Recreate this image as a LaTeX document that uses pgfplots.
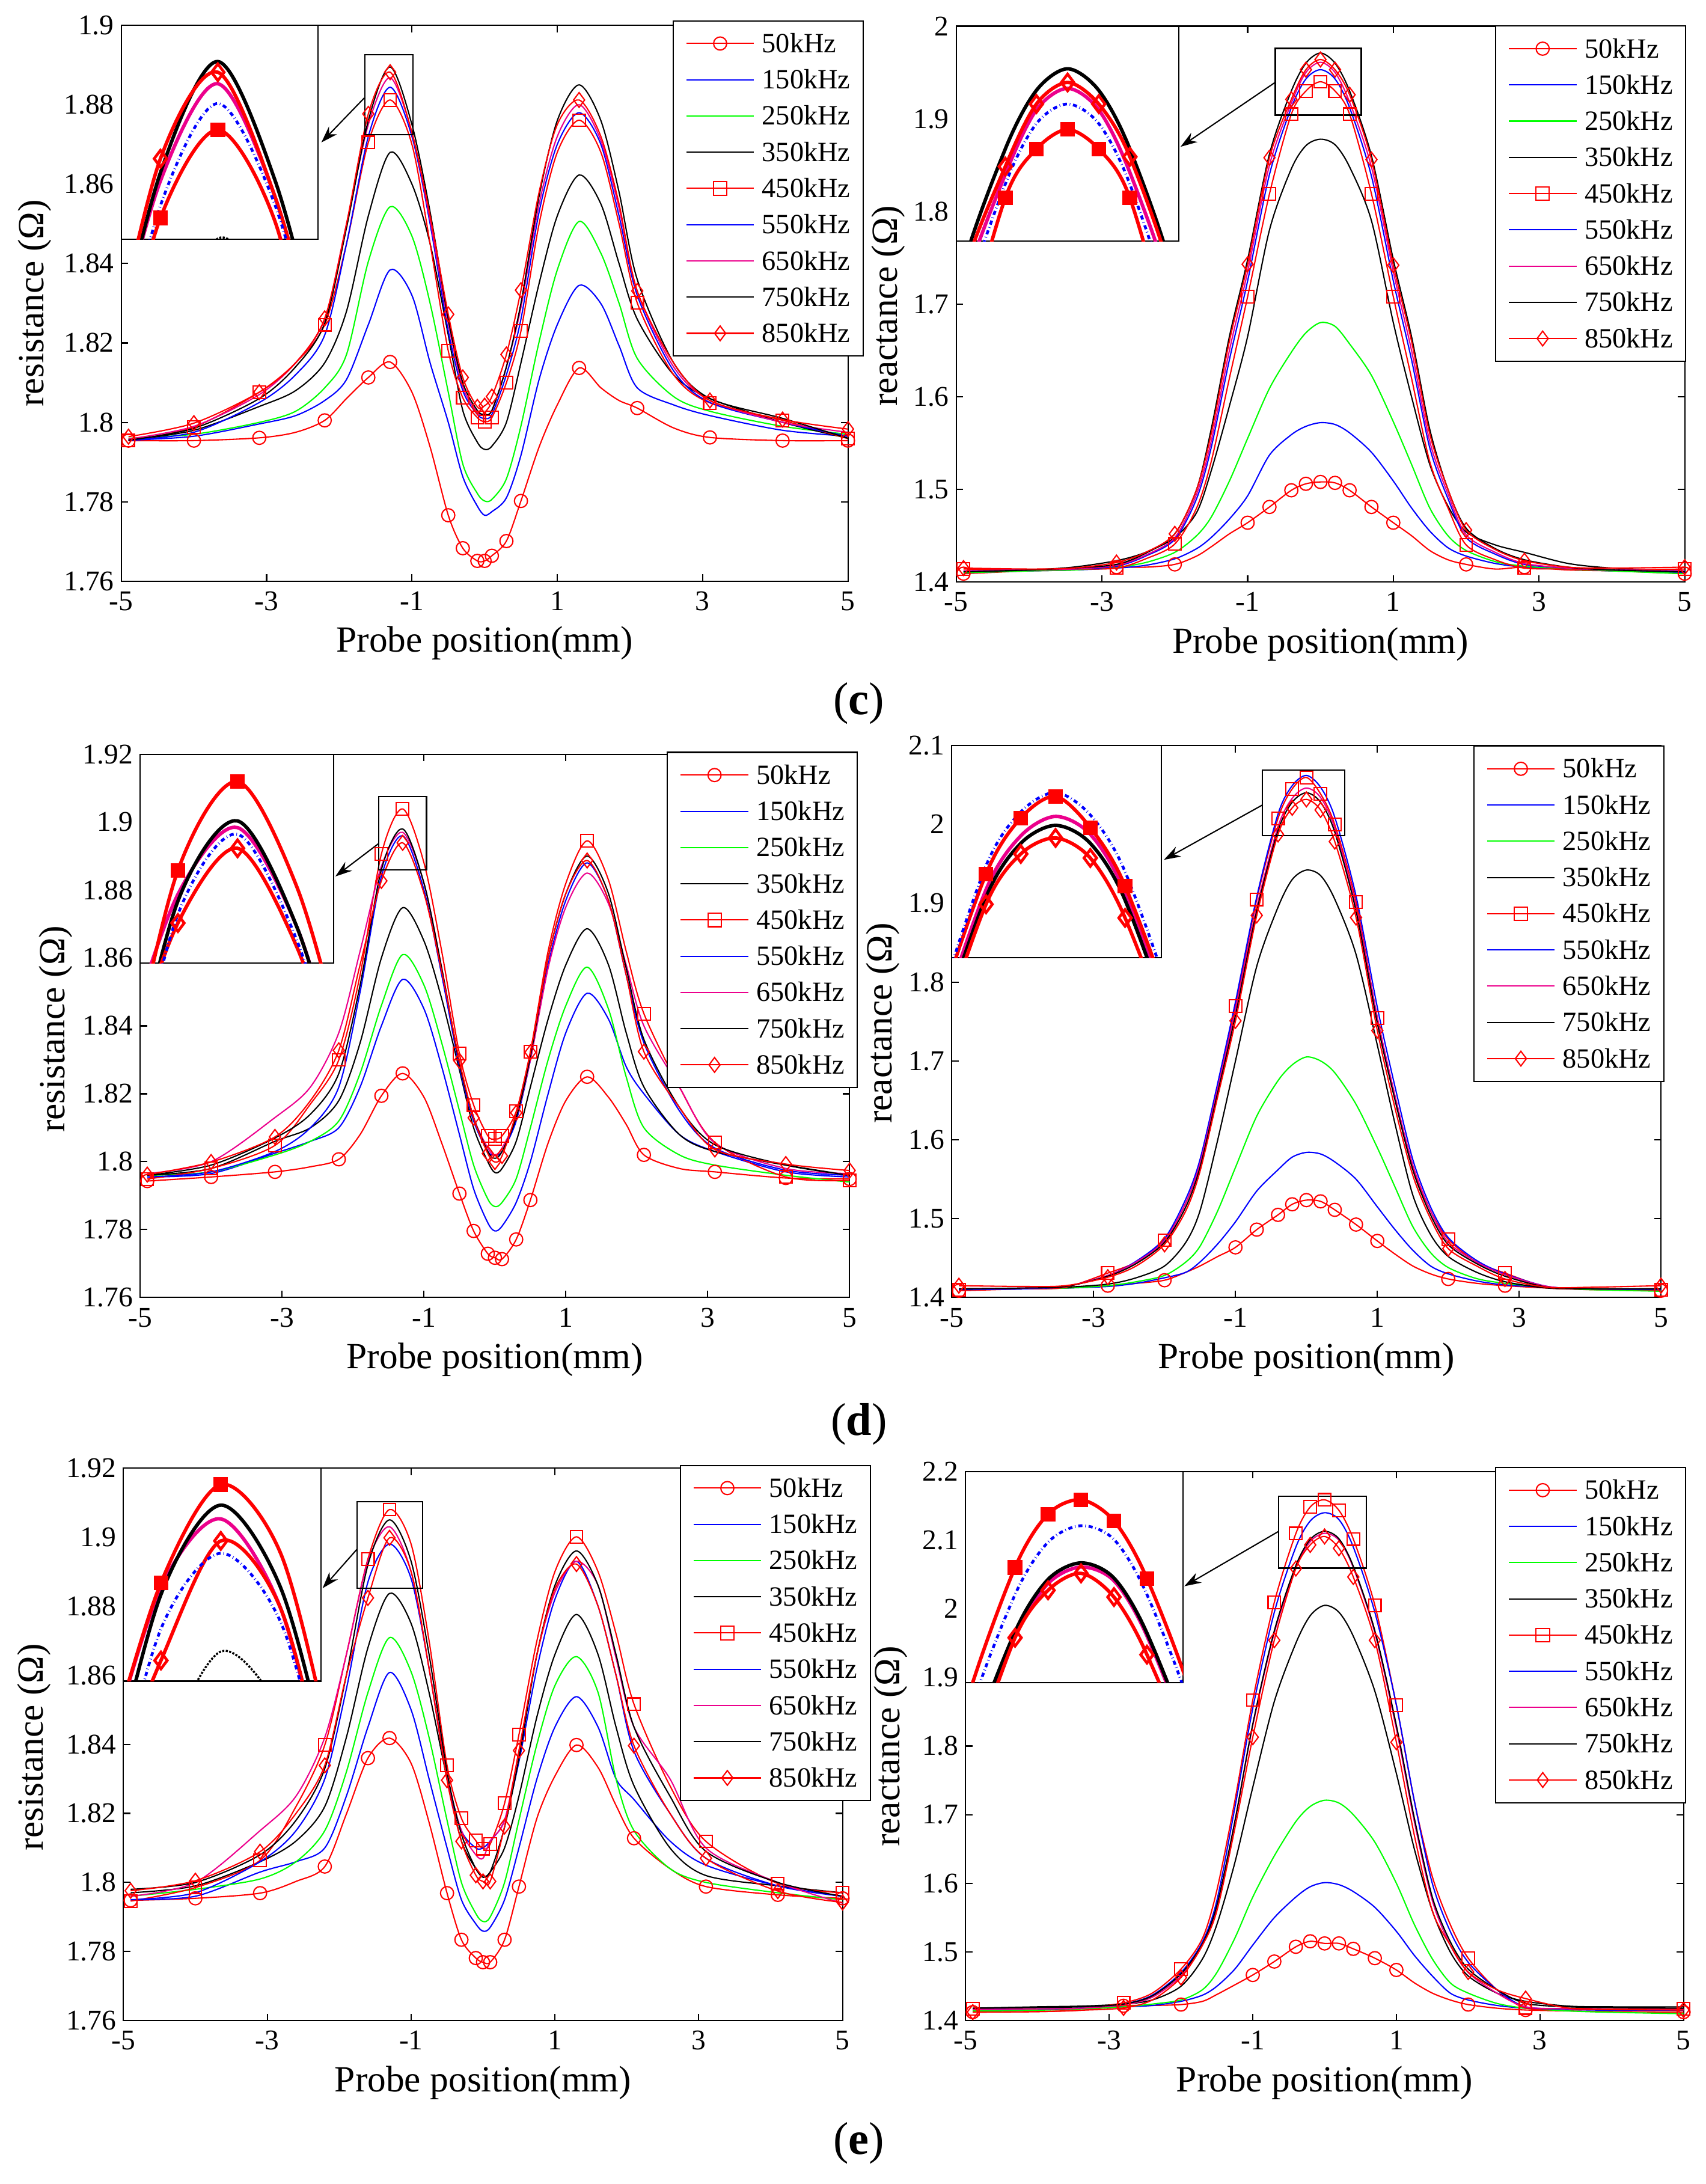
\documentclass[border=0pt]{standalone}
\usepackage{fontspec}
\setmainfont{Liberation Serif}
\usepackage{pgfplots}
\usepackage{pgfplotstable}
\pgfplotsset{compat=1.18}
\usetikzlibrary{arrows.meta}

% columns: x, 50, 150, 250, 350, 450, 550, 650, 750, 850 kHz
\pgfplotstableread{
x a b c d e f g h i
-4.9 1.7954 1.7955 1.796 1.7955 1.7954 1.7955 1.7958 1.7955 1.7964
-4.0 1.7954 1.7965 1.797 1.798 1.7988 1.7975 1.799 1.7985 1.7998
-3.1 1.7961 1.7996 1.800 1.804 1.8076 1.805 1.807 1.806 1.8076
-2.6 1.7975 1.8017 1.8028 1.808 1.815 1.812 1.815 1.814 1.815
-2.2 1.8005 1.8055 1.8087 1.815 1.8246 1.822 1.826 1.825 1.8262
-1.9 1.806 1.8108 1.8171 1.828 1.845 1.845 1.850 1.849 1.850
-1.6 1.8113 1.8246 1.8405 1.852 1.8705 1.872 1.875 1.876 1.8777
-1.3 1.8152 1.8384 1.8543 1.868 1.8812 1.8844 1.8868 1.8895 1.8882
-1.0 1.8076 1.832 1.8469 1.860 1.870 1.872 1.873 1.875 1.873
-0.75 1.7938 1.815 1.830 1.845 1.845 1.85 1.851 1.853 1.852
-0.5 1.7766 1.800 1.8076 1.822 1.818 1.823 1.825 1.826 1.8272
-0.3 1.7683 1.7863 1.7895 1.803 1.8062 1.808 1.809 1.810 1.8113
-0.1 1.7651 1.7789 1.7821 1.795 1.8012 1.802 1.8025 1.803 1.8039
0 1.7651 1.7766 1.7802 1.7932 1.8002 1.801 1.802 1.802 1.8042
0.1 1.7664 1.7775 1.7806 1.794 1.8012 1.802 1.803 1.803 1.8065
0.3 1.7701 1.781 1.7858 1.800 1.810 1.812 1.814 1.814 1.8171
0.5 1.7802 1.7917 1.7991 1.815 1.823 1.826 1.829 1.830 1.8333
0.75 1.7938 1.8108 1.8203 1.835 1.850 1.853 1.855 1.857 1.858
1.0 1.8044 1.8246 1.8384 1.852 1.868 1.870 1.872 1.876 1.875
1.3 1.8137 1.8345 1.8506 1.8623 1.8761 1.878 1.880 1.885 1.8812
1.6 1.8087 1.8299 1.8426 1.855 1.868 1.870 1.871 1.876 1.872
1.85 1.8055 1.8193 1.830 1.840 1.850 1.852 1.854 1.858 1.855
2.1 1.8036 1.8087 1.8161 1.826 1.8301 1.832 1.833 1.836 1.8331
2.6 1.7986 1.8044 1.8065 1.812 1.812 1.813 1.814 1.815 1.815
3.1 1.7962 1.8017 1.8028 1.806 1.8049 1.805 1.8055 1.806 1.8055
4.1 1.7954 1.798 1.799 1.800 1.8005 1.800 1.800 1.801 1.8007
5.0 1.7954 1.7965 1.797 1.796 1.7959 1.7965 1.7975 1.796 1.7983
}\tA

\pgfplotstableread{
x a b c d e f g h i
-4.9 1.409 1.410 1.410 1.411 1.414 1.412 1.412 1.411 1.415
-4.0 1.412 1.412 1.412 1.413 1.413 1.413 1.413 1.413 1.414
-3.4 1.413 1.413 1.413 1.416 1.414 1.414 1.414 1.415 1.415
-2.8 1.416 1.415 1.416 1.423 1.415 1.417 1.418 1.419 1.421
-2.4 1.416 1.418 1.421 1.432 1.425 1.428 1.429 1.431 1.432
-2.0 1.419 1.425 1.432 1.448 1.441 1.446 1.448 1.452 1.452
-1.7 1.428 1.436 1.450 1.475 1.48 1.49 1.495 1.50 1.50
-1.5 1.438 1.448 1.470 1.52 1.53 1.545 1.552 1.565 1.56
-1.25 1.452 1.468 1.509 1.59 1.62 1.64 1.65 1.665 1.66
-1.0 1.464 1.493 1.555 1.665 1.708 1.725 1.735 1.748 1.743
-0.7 1.481 1.537 1.609 1.78 1.819 1.84 1.85 1.862 1.858
-0.4 1.499 1.559 1.648 1.846 1.905 1.912 1.917 1.930 1.921
-0.2 1.506 1.568 1.669 1.871 1.930 1.943 1.950 1.960 1.953
0 1.508 1.572 1.680 1.878 1.940 1.953 1.961 1.971 1.964
0.2 1.507 1.570 1.676 1.872 1.930 1.943 1.950 1.960 1.953
0.4 1.499 1.561 1.657 1.848 1.905 1.912 1.918 1.930 1.926
0.7 1.481 1.540 1.623 1.79 1.819 1.838 1.848 1.860 1.856
1.0 1.464 1.509 1.573 1.68 1.708 1.725 1.735 1.748 1.742
1.25 1.450 1.480 1.527 1.60 1.62 1.64 1.65 1.665 1.66
1.5 1.434 1.455 1.480 1.527 1.53 1.545 1.552 1.565 1.56
1.75 1.424 1.437 1.450 1.482 1.48 1.49 1.495 1.50 1.50
2.0 1.419 1.428 1.434 1.454 1.440 1.448 1.451 1.458 1.456
2.4 1.414 1.420 1.422 1.440 1.424 1.43 1.432 1.436 1.435
2.8 1.416 1.416 1.417 1.432 1.415 1.419 1.420 1.424 1.423
3.4 1.413 1.414 1.414 1.420 1.414 1.415 1.415 1.416 1.416
4.0 1.412 1.412 1.412 1.415 1.413 1.413 1.413 1.413 1.415
5.0 1.409 1.410 1.409 1.411 1.414 1.412 1.412 1.411 1.416
}\tB

\pgfplotstableread{
x a b c d e f g h i
-4.9 1.7943 1.7955 1.796 1.796 1.7949 1.7955 1.7965 1.796 1.7962
-4.0 1.7955 1.7965 1.797 1.798 1.798 1.797 1.800 1.799 1.7999
-3.1 1.797 1.8025 1.802 1.806 1.8048 1.803 1.813 1.807 1.8073
-2.6 1.7985 1.806 1.806 1.81 1.817 1.81 1.822 1.814 1.818
-2.2 1.8007 1.81 1.812 1.818 1.83 1.822 1.838 1.826 1.8328
-1.9 1.808 1.822 1.826 1.835 1.855 1.85 1.862 1.852 1.858
-1.6 1.8194 1.84 1.846 1.86 1.8906 1.884 1.887 1.886 1.8827
-1.3 1.826 1.8537 1.861 1.8748 1.9039 1.896 1.897 1.898 1.8939
-1.0 1.819 1.845 1.852 1.865 1.888 1.88 1.882 1.882 1.879
-0.75 1.8055 1.828 1.835 1.848 1.862 1.855 1.857 1.857 1.856
-0.5 1.7906 1.808 1.815 1.827 1.8318 1.828 1.829 1.829 1.8297
-0.3 1.7796 1.792 1.799 1.81 1.8167 1.812 1.813 1.813 1.8129
-0.1 1.7729 1.782 1.789 1.80 1.8076 1.803 1.804 1.803 1.8024
0 1.7717 1.7796 1.7868 1.7968 1.8067 1.802 1.802 1.801 1.7999
0.1 1.7713 1.781 1.788 1.798 1.8076 1.803 1.804 1.803 1.8017
0.3 1.7771 1.788 1.795 1.806 1.8148 1.812 1.813 1.813 1.8144
0.5 1.7887 1.80 1.81 1.822 1.8324 1.83 1.83 1.831 1.8322
0.75 1.8055 1.82 1.83 1.842 1.862 1.858 1.857 1.86 1.86
1.0 1.818 1.838 1.846 1.858 1.882 1.877 1.875 1.879 1.879
1.3 1.825 1.8496 1.8573 1.8686 1.8945 1.888 1.885 1.89 1.8887
1.6 1.819 1.842 1.845 1.858 1.883 1.877 1.876 1.879 1.877
1.85 1.811 1.828 1.825 1.838 1.862 1.855 1.858 1.857 1.855
2.1 1.802 1.82 1.81 1.822 1.8436 1.835 1.84 1.836 1.8324
2.6 1.798 1.808 1.802 1.808 1.822 1.815 1.822 1.816 1.816
3.1 1.797 1.803 1.799 1.803 1.8057 1.804 1.8055 1.805 1.8036
4.1 1.7952 1.797 1.796 1.799 1.7955 1.7975 1.798 1.799 1.7993
5.0 1.7949 1.7955 1.794 1.796 1.7945 1.796 1.7965 1.796 1.7974
}\tC

\pgfplotstableread{
x a b c d e f g h i
-4.9 1.4086 1.41 1.41 1.411 1.4096 1.410 1.411 1.411 1.415
-4.0 1.411 1.411 1.411 1.411 1.411 1.411 1.412 1.412 1.414
-3.4 1.412 1.412 1.412 1.413 1.413 1.414 1.414 1.414 1.415
-2.8 1.415 1.414 1.415 1.417 1.431 1.428 1.428 1.427 1.4257
-2.4 1.418 1.418 1.42 1.425 1.445 1.446 1.445 1.443 1.44
-2.0 1.4219 1.425 1.428 1.44 1.4727 1.475 1.472 1.47 1.4674
-1.7 1.432 1.432 1.445 1.47 1.52 1.525 1.52 1.515 1.51
-1.5 1.44 1.445 1.465 1.51 1.57 1.575 1.57 1.565 1.56
-1.25 1.452 1.468 1.51 1.6 1.665 1.672 1.665 1.66 1.655
-1.0 1.4636 1.496 1.565 1.70 1.7695 1.775 1.765 1.758 1.7508
-0.7 1.4861 1.535 1.63 1.82 1.9048 1.908 1.895 1.89 1.8845
-0.4 1.5048 1.562 1.675 1.895 2.0075 2.013 1.997 1.992 1.9872
-0.2 1.5182 1.578 1.695 1.93 2.0449 2.049 2.033 2.028 2.0209
0 1.5235 1.584 1.705 1.942 2.0594 2.062 2.046 2.040 2.0316
0.2 1.5219 1.582 1.70 1.935 2.0385 2.047 2.034 2.028 2.0182
0.4 1.5112 1.572 1.685 1.905 1.9995 2.009 1.995 1.99 1.9781
0.7 1.4925 1.55 1.645 1.835 1.9016 1.909 1.895 1.89 1.8818
1.0 1.4717 1.515 1.59 1.72 1.7545 1.768 1.755 1.748 1.7385
1.25 1.455 1.486 1.54 1.62 1.655 1.667 1.655 1.65 1.64
1.5 1.44 1.46 1.49 1.53 1.565 1.575 1.568 1.562 1.555
1.75 1.43 1.44 1.457 1.48 1.51 1.515 1.51 1.505 1.50
2.0 1.4235 1.43 1.438 1.452 1.4738 1.476 1.47 1.467 1.462
2.4 1.418 1.421 1.424 1.432 1.445 1.447 1.445 1.443 1.44
2.8 1.415 1.416 1.418 1.42 1.431 1.43 1.429 1.427 1.4235
3.4 1.412 1.413 1.413 1.412 1.413 1.414 1.414 1.413 1.413
4.0 1.410 1.411 1.41 1.411 1.411 1.411 1.411 1.411 1.413
5.0 1.4086 1.41 1.408 1.411 1.4096 1.410 1.411 1.411 1.415
}\tD

\pgfplotstableread{
x a b c d e f g h i
-4.9 1.7948 1.795 1.796 1.797 1.7946 1.795 1.796 1.798 1.7976
-4.0 1.7954 1.796 1.798 1.799 1.7985 1.797 1.80 1.80 1.8005
-3.1 1.7969 1.803 1.801 1.806 1.8064 1.806 1.815 1.808 1.8089
-2.6 1.8003 1.806 1.806 1.812 1.822 1.815 1.825 1.818 1.82
-2.2 1.8046 1.81 1.815 1.822 1.8398 1.83 1.842 1.833 1.8339
-1.9 1.8198 1.825 1.832 1.842 1.866 1.856 1.866 1.86 1.86
-1.6 1.836 1.845 1.855 1.868 1.8937 1.887 1.893 1.892 1.8824
-1.3 1.8418 1.8608 1.8709 1.8837 1.908 1.898 1.903 1.905 1.8998
-1.0 1.8345 1.85 1.861 1.875 1.898 1.888 1.89 1.893 1.89
-0.75 1.8174 1.83 1.842 1.855 1.87 1.862 1.862 1.866 1.862
-0.5 1.7969 1.81 1.818 1.83 1.8339 1.83 1.831 1.832 1.8296
-0.3 1.7834 1.795 1.80 1.812 1.8186 1.815 1.815 1.814 1.8119
-0.1 1.7781 1.788 1.791 1.804 1.8121 1.81 1.808 1.804 1.8021
0 1.7769 1.7859 1.7887 1.8015 1.8098 1.81 1.807 1.802 1.8003
0.1 1.7769 1.787 1.79 1.803 1.8111 1.812 1.812 1.803 1.8003
0.3 1.7834 1.795 1.80 1.81 1.8229 1.818 1.818 1.816 1.8162
0.5 1.7988 1.81 1.818 1.825 1.8428 1.835 1.838 1.836 1.8382
0.75 1.8186 1.83 1.84 1.848 1.87 1.862 1.866 1.866 1.866
1.0 1.8308 1.845 1.857 1.866 1.89 1.882 1.884 1.886 1.885
1.3 1.8398 1.8538 1.8654 1.8776 1.9001 1.893 1.893 1.896 1.8922
1.6 1.8333 1.845 1.855 1.866 1.89 1.88 1.886 1.886 1.88
1.85 1.8223 1.83 1.83 1.845 1.872 1.86 1.865 1.866 1.86
2.1 1.8128 1.824 1.815 1.828 1.8516 1.838 1.845 1.845 1.8396
2.6 1.804 1.812 1.804 1.81 1.828 1.82 1.83 1.825 1.82
3.1 1.7988 1.805 1.80 1.802 1.8119 1.807 1.81 1.809 1.807
4.1 1.7964 1.799 1.797 1.799 1.7997 1.799 1.80 1.80 1.7975
5.0 1.7954 1.796 1.795 1.797 1.797 1.796 1.794 1.796 1.7942
}\tE

\pgfplotstableread{
x a b c d e f g h i
-4.9 1.4123 1.415 1.414 1.418 1.4172 1.416 1.416 1.418 1.4123
-4.0 1.413 1.416 1.415 1.42 1.417 1.417 1.417 1.419 1.413
-3.4 1.415 1.418 1.417 1.421 1.418 1.418 1.418 1.42 1.415
-2.8 1.4215 1.42 1.42 1.424 1.4258 1.424 1.423 1.424 1.4184
-2.4 1.422 1.422 1.424 1.43 1.44 1.437 1.434 1.436 1.43
-2.0 1.4233 1.428 1.43 1.45 1.475 1.47 1.465 1.468 1.4627
-1.7 1.428 1.437 1.445 1.49 1.52 1.515 1.51 1.512 1.51
-1.5 1.438 1.45 1.47 1.54 1.59 1.575 1.565 1.568 1.56
-1.25 1.452 1.475 1.52 1.63 1.72 1.71 1.69 1.69 1.68
-1.0 1.4664 1.51 1.58 1.74 1.867 1.855 1.83 1.832 1.8129
-0.7 1.486 1.55 1.64 1.865 2.0095 1.995 1.965 1.968 1.9542
-0.4 1.5075 1.58 1.69 1.95 2.1097 2.09 2.06 2.063 2.0587
-0.2 1.5155 1.595 1.712 1.99 2.1484 2.128 2.098 2.101 2.0931
0 1.5124 1.601 1.721 2.005 2.1588 2.14 2.11 2.113 2.1054
0.2 1.5124 1.598 1.717 1.995 2.1435 2.13 2.10 2.102 2.0882
0.4 1.5045 1.588 1.70 1.96 2.1017 2.09 2.06 2.062 2.0464
0.7 1.4909 1.565 1.66 1.88 2.0052 1.995 1.965 1.968 1.9542
1.0 1.4737 1.53 1.60 1.76 1.8596 1.86 1.825 1.83 1.8055
1.25 1.455 1.495 1.54 1.65 1.72 1.72 1.69 1.695 1.67
1.5 1.44 1.465 1.49 1.56 1.61 1.60 1.575 1.58 1.56
1.75 1.43 1.44 1.455 1.50 1.54 1.53 1.51 1.515 1.51
2.0 1.4233 1.43 1.44 1.465 1.4909 1.485 1.47 1.475 1.4707
2.4 1.418 1.422 1.425 1.44 1.445 1.445 1.44 1.445 1.445
2.8 1.4154 1.418 1.418 1.428 1.4184 1.42 1.42 1.425 1.432
3.4 1.414 1.416 1.414 1.421 1.418 1.417 1.417 1.42 1.418
4.0 1.413 1.415 1.412 1.42 1.417 1.416 1.416 1.419 1.416
5.0 1.4123 1.415 1.41 1.42 1.4172 1.416 1.416 1.418 1.4154
}\tF

\pgfplotsset{
  rmk/.style={mark indices={1,2,3,5,7,8,11,12,13,14,15,16,17,20,23,25,26,27}},
  xmk/.style={mark indices={1,4,6,10,11,12,13,14,15,16,17,18,22,24,27}},
  mainax/.style={
    scale only axis, anchor=south west, clip=false,
    xmin=-5, xmax=5, xtick={-5,-3,-1,1,3,5}, xticklabels={-5,-3,-1,1,3,5},
    tick align=inside, tick pos=both, major tick length=5pt,
    every tick/.style={black, line width=0.9pt},
    axis line style={line width=0.9pt},
    tick label style={font=\fontsize{20.5}{24}\selectfont},
    xticklabel style={anchor=base, yshift=-21pt},
    yticklabel style={anchor=east, inner sep=0pt, xshift=-5pt},
    label style={font=\fontsize{26.5}{30}\selectfont},
    xlabel={Probe position(mm)},
    xlabel style={at={(axis description cs:0.5,0)}, anchor=base, yshift=-51pt},
    ylabel style={anchor=center},
    every axis plot/.append style={line width=0.9pt},
    legend cell align=left,
    legend image code/.code={\draw[mark repeat=2,mark phase=2,##1] plot coordinates {(0pt,0pt) (24.25pt,0pt) (48.5pt,0pt)};},
    legend style={draw=black, line width=0.9pt, fill=white, anchor=north east,
      inner xsep=9.1pt, inner ysep=9.8pt, row sep=13pt, column sep=5.4pt,
      font=\fontsize{20}{24}\selectfont,
      nodes={inner sep=0pt, text height=13pt, text depth=0pt}},
  },
  inset/.style={
    scale only axis, anchor=north west, xtick=\empty, ytick=\empty,
    axis background/.style={fill=white}, axis line style={line width=0.9pt}, clip=true,
  },
}

\newcommand{\leg}{%
  \addlegendimage{red, line width=0.9pt, mark=o, mark size=4.7pt, mark options={solid}}\addlegendentry{50kHz}
  \addlegendimage{blue, line width=0.9pt}\addlegendentry{150kHz}
  \addlegendimage{green, line width=0.9pt}\addlegendentry{250kHz}
  \addlegendimage{black, line width=0.9pt}\addlegendentry{350kHz}
  \addlegendimage{red, line width=0.9pt, mark=square, mark size=4.8pt, mark options={solid}}\addlegendentry{450kHz}
  \addlegendimage{blue, line width=0.9pt}\addlegendentry{550kHz}
  \addlegendimage{magenta, line width=0.9pt}\addlegendentry{650kHz}
  \addlegendimage{black, line width=0.9pt}\addlegendentry{750kHz}
  \addlegendimage{red, line width=0.9pt, mark=diamond, mark size=5.3pt, mark options={solid}}\addlegendentry{850kHz}
}

\newcommand{\mainplots}[2]{%
  \addplot[forget plot, red, smooth, mark=o, mark size=4.7pt, mark options={solid}, #2] table[x=x,y=a]{#1};
  \addplot[forget plot, blue, smooth] table[x=x,y=b]{#1};
  \addplot[forget plot, green, smooth] table[x=x,y=c]{#1};
  \addplot[forget plot, black, smooth] table[x=x,y=d]{#1};
  \addplot[forget plot, red, smooth, mark=square, mark size=4.5pt, mark options={solid}, #2] table[x=x,y=e]{#1};
  \addplot[forget plot, blue, smooth] table[x=x,y=f]{#1};
  \addplot[forget plot, magenta, smooth] table[x=x,y=g]{#1};
  \addplot[forget plot, black, smooth] table[x=x,y=h]{#1};
  \addplot[forget plot, red, smooth, mark=diamond, mark size=5.3pt, mark options={solid}, #2] table[x=x,y=i]{#1};
}

% #1 table, #2 first kept index, #3 first skipped index after the kept run (0-based)
\newcommand{\insetplots}[3]{%
  \addplot[black, densely dotted, line width=1.5pt, smooth] table[x=x,y=d]{#1};
  \addplot[magenta, line width=2.5pt, smooth] table[x=x,y=g]{#1};
  \addplot[black, line width=2.5pt, smooth] table[x=x,y=h]{#1};
  \addplot[red, line width=2.5pt, smooth] table[x=x,y=e]{#1};
  \addplot[red, line width=2.5pt, smooth] table[x=x,y=i]{#1};
  \addplot[blue, dash dot, line width=2pt, smooth] table[x=x,y=f]{#1};
  \addplot[red, only marks, mark=square*, mark size=4.5pt, mark options={solid, fill=red, line width=1.5pt},
    skip coords between index={0}{#2}, skip coords between index={#3}{40}] table[x=x,y=e]{#1};
  \addplot[red, only marks, mark=diamond, mark size=6pt, mark options={solid, fill=white, line width=2pt},
    skip coords between index={0}{#2}, skip coords between index={#3}{40}] table[x=x,y=i]{#1};
}

\begin{document}
\begin{tikzpicture}
\path[use as bounding box] (0pt,0pt) rectangle (1224pt,1567.4pt);

% ---------- (c) resistance ----------
\begin{axis}[mainax, name=A, at={(87pt,1150.3pt)}, width=521.6pt, height=398.9pt,
  ymin=1.76, ymax=1.9, ytick={1.76,1.78,1.8,1.82,1.84,1.86,1.88,1.9},
  yticklabels={1.76,1.78,1.8,1.82,1.84,1.86,1.88,1.9},
  ylabel={resistance (Ω)}, ylabel style={at={(axis description cs:-0.119,0.5)}},
  legend style={at={(1.0215,1.0093)}}]
\leg
\mainplots{\tA}{rmk}
\draw[line width=0.9pt] (axis cs:-1.649,1.8724) rectangle (axis cs:-0.983,1.8926);
\draw[line width=0.9pt, -{Stealth[length=12pt,width=8pt]}] (axis cs:-1.656,1.8817) -- (axis cs:-2.246,1.8705);
\end{axis}
\begin{axis}[inset, at={(A.north west)}, width=141.4pt, height=153.6pt,
  xmin=-1.805, xmax=-0.775, ymin=1.8679, ymax=1.8939]
\insetplots{\tA}{6}{8}
\end{axis}

% ---------- (c) reactance ----------
\begin{axis}[mainax, name=B, at={(686.3pt,1149.7pt)}, width=522.8pt, height=398.9pt,
  ymin=1.4, ymax=2.0, ytick={1.4,1.5,1.6,1.7,1.8,1.9,2.0},
  yticklabels={1.4,1.5,1.6,1.7,1.8,1.9,2},
  ylabel={reactance (Ω)}, ylabel style={at={(axis description cs:-0.093,0.497)}},
  legend style={at={(1.002,1.0015)}}]
\leg
\mainplots{\tB}{xmk}
\draw[line width=0.9pt] (axis cs:-0.62,1.904) rectangle (axis cs:0.56,1.976);
\draw[line width=0.9pt, -{Stealth[length=12pt,width=8pt]}] (axis cs:-0.62,1.9394) -- (axis cs:-1.921,1.8698);
\end{axis}
\begin{axis}[inset, at={(B.north west)}, width=159.8pt, height=154.4pt,
  xmin=-0.715, xmax=0.715, ymin=1.8828, ymax=1.9928]
\insetplots{\tB}{11}{16}
\end{axis}

\node[font=\fontsize{33}{36}\selectfont] at (616.4pt,1062.6pt) {(\textbf{c})};

% ---------- (d) resistance ----------
\begin{axis}[mainax, name=C, at={(100.6pt,636.2pt)}, width=509.2pt, height=389.9pt,
  ymin=1.76, ymax=1.92, ytick={1.76,1.78,1.8,1.82,1.84,1.86,1.88,1.9,1.92},
  yticklabels={1.76,1.78,1.8,1.82,1.84,1.86,1.88,1.9,1.92},
  ylabel={resistance (Ω)}, ylabel style={at={(axis description cs:-0.119,0.494)}},
  legend style={at={(1.0118,1.0046)}}]
\leg
\mainplots{\tC}{rmk}
\draw[line width=0.9pt] (axis cs:-1.638,1.886) rectangle (axis cs:-0.964,1.9076);
\draw[line width=0.9pt, -{Stealth[length=12pt,width=8pt]}] (axis cs:-1.638,1.8937) -- (axis cs:-2.249,1.884);
\end{axis}
\begin{axis}[inset, at={(C.north west)}, width=138.9pt, height=149.9pt,
  xmin=-1.79, xmax=-0.816, ymin=1.8767, ymax=1.908]
\insetplots{\tC}{6}{8}
\end{axis}

% ---------- (d) reactance ----------
\begin{axis}[mainax, name=D, at={(683.1pt,636.2pt)}, width=509pt, height=396.2pt,
  ymin=1.4, ymax=2.1, ytick={1.4,1.5,1.6,1.7,1.8,1.9,2.0,2.1},
  yticklabels={1.4,1.5,1.6,1.7,1.8,1.9,2,2.1},
  ylabel={reactance (Ω)}, ylabel style={at={(axis description cs:-0.097,0.497)}},
  legend style={at={(1.0047,1.0)}}]
\leg
\mainplots{\tD}{xmk}
\draw[line width=0.9pt] (axis cs:-0.618,1.986) rectangle (axis cs:0.54,2.069);
\draw[line width=0.9pt, -{Stealth[length=12pt,width=8pt]}] (axis cs:-0.618,2.0246) -- (axis cs:-2.009,1.955);
\end{axis}
\begin{axis}[inset, at={(D.north west)}, width=150.3pt, height=152.3pt,
  xmin=-0.597, xmax=0.608, ymin=1.9515, ymax=2.0935]
\insetplots{\tD}{11}{16}
\end{axis}

\node[font=\fontsize{33}{36}\selectfont] at (616.4pt,545.4pt) {(\textbf{d})};

% ---------- (e) resistance ----------
\begin{axis}[mainax, name=E, at={(88.6pt,117.3pt)}, width=516.1pt, height=396.5pt,
  ymin=1.76, ymax=1.92, ytick={1.76,1.78,1.8,1.82,1.84,1.86,1.88,1.9,1.92},
  yticklabels={1.76,1.78,1.8,1.82,1.84,1.86,1.88,1.9,1.92},
  ylabel={resistance (Ω)}, ylabel style={at={(axis description cs:-0.124,0.495)}},
  legend style={at={(1.0393,1.006)}}]
\leg
\mainplots{\tE}{rmk}
\draw[line width=0.9pt] (axis cs:-1.752,1.8852) rectangle (axis cs:-0.839,1.9102);
\draw[line width=0.9pt, -{Stealth[length=12pt,width=8pt]}] (axis cs:-1.752,1.8965) -- (axis cs:-2.231,1.8852);
\end{axis}
\begin{axis}[inset, at={(E.north west)}, width=141.7pt, height=152.9pt,
  xmin=-1.788, xmax=-0.798, ymin=1.8794, ymax=1.9104]
\insetplots{\tE}{6}{8}
\end{axis}

% ---------- (e) reactance ----------
\begin{axis}[mainax, name=F, at={(693pt,117.3pt)}, width=515.3pt, height=394pt,
  ymin=1.4, ymax=2.2, ytick={1.4,1.5,1.6,1.7,1.8,1.9,2.0,2.1,2.2},
  yticklabels={1.4,1.5,1.6,1.7,1.8,1.9,2,2.1,2.2},
  ylabel={reactance (Ω)}, ylabel style={at={(axis description cs:-0.104,0.4995)}},
  legend style={at={(1.0037,1.0086)}}]
\leg
\mainplots{\tF}{xmk}
\draw[line width=0.9pt] (axis cs:-0.641,2.0593) rectangle (axis cs:0.579,2.1638);
\draw[line width=0.9pt, -{Stealth[length=12pt,width=8pt]}] (axis cs:-0.641,2.1128) -- (axis cs:-1.953,2.0329);
\end{axis}
\begin{axis}[inset, at={(F.north west)}, width=156.2pt, height=151.3pt,
  xmin=-0.70, xmax=0.62, ymin=2.0263, ymax=2.1793]
\insetplots{\tF}{11}{16}
\end{axis}

\node[font=\fontsize{33}{36}\selectfont] at (616.4pt,29.4pt) {(\textbf{e})};
\end{tikzpicture}
\end{document}
